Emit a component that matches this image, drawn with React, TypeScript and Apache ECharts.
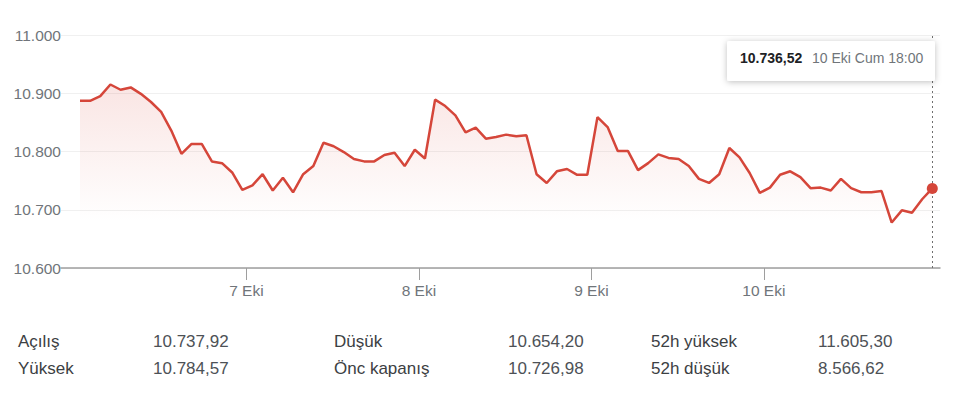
import React, { useEffect, useRef } from "react";
import * as echarts from "echarts";

// 30-minute closes, 10:00–18:00, one array per trading day
const oct6 = [10887, 10887, 10895, 10915, 10906, 10910, 10899, 10885, 10868, 10836, 10796, 10813, 10813, 10783, 10780, 10764, 10734];
const oct7 = [10742, 10761, 10733, 10755, 10730, 10761, 10775, 10815, 10809, 10799, 10787, 10783, 10783, 10794, 10798, 10775, 10803];
const oct8 = [10788, 10889, 10878, 10862, 10833, 10841, 10822, 10825, 10829, 10826, 10828, 10761, 10746, 10766, 10770, 10760, 10760];
const oct9 = [10859, 10842, 10801, 10801, 10768, 10780, 10795, 10789, 10787, 10775, 10753, 10746, 10761, 10806, 10790, 10763, 10729];
const oct10 = [10738, 10760, 10766, 10756, 10737, 10738, 10733, 10753, 10737, 10730, 10730, 10732, 10678, 10699, 10695, 10718, 10736.52];

const dayLabels = ["7 Eki", "8 Eki", "9 Eki", "10 Eki"];
const dayTickPositions = [16.4, 33.4, 50.4, 67.4];
const lastTimeLabel = "10 Eki Cum 18:00";

const yMin = 10600;
const yMax = 11000;
const yStep = 100;

const statLabelsCol1 = ["Açılış", "Yüksek"];
const statValuesCol1 = ["10.737,92", "10.784,57"];
const statLabelsCol2 = ["Düşük", "Önc kapanış"];
const statValuesCol2 = ["10.654,20", "10.726,98"];
const statLabelsCol3 = ["52h yüksek", "52h düşük"];
const statValuesCol3 = ["11.605,30", "8.566,62"];

const FONT = "'Liberation Sans', Arial, Helvetica, sans-serif";
const RED = "#d5463a";

function formatTr(v: number, decimals: number): string {
  const fixed = v.toFixed(decimals);
  const [intPart, frac] = fixed.split(".");
  const withDots = intPart.replace(/\B(?=(\d{3})+(?!\d))/g, ".");
  return frac ? withDots + "," + frac : withDots;
}

export default function App() {
  const ref = useRef<HTMLDivElement>(null);

  useEffect(() => {
    if (!ref.current) return;
    const chart = echarts.init(ref.current, undefined, { renderer: "svg" });
    const values = [...oct6, ...oct7, ...oct8, ...oct9, ...oct10];
    const data = values.map((v, i) => [i, v]);
    const lastIdx = values.length - 1;
    const lastVal = values[lastIdx];

    const statCols = [
      { lx: 18, vx: 153, labels: statLabelsCol1, vals: statValuesCol1 },
      { lx: 334, vx: 508, labels: statLabelsCol2, vals: statValuesCol2 },
      { lx: 651, vx: 818, labels: statLabelsCol3, vals: statValuesCol3 },
    ];
    const rowYs = [341, 368];
    const tableTexts: any[] = [];
    statCols.forEach((c) => {
      c.labels.forEach((t, r) => {
        tableTexts.push({
          type: "text",
          x: c.lx,
          y: rowYs[r],
          style: { text: t, fontSize: 17, fontFamily: FONT, fill: "#3c4043", verticalAlign: "middle" },
        });
        tableTexts.push({
          type: "text",
          x: c.vx,
          y: rowYs[r],
          style: { text: c.vals[r], fontSize: 17, fontFamily: FONT, fill: "#4d5156", verticalAlign: "middle" },
        });
      });
    });

    const option: any = {
      animation: false,
      grid: { left: 61, right: 20, top: 35, bottom: 140 },
      xAxis: {
        type: "value",
        min: -1.87,
        max: 84.76,
        splitLine: { show: false },
        axisLine: { lineStyle: { color: "#9e9e9e", width: 1.5 } },
        axisTick: { show: true, customValues: dayTickPositions, length: 12, lineStyle: { color: "#9e9e9e", width: 1 } },
        axisLabel: {
          customValues: dayTickPositions,
          formatter: (v: number) => {
            let k = 0;
            let best = Infinity;
            dayTickPositions.forEach((p, i) => {
              if (Math.abs(p - v) < best) {
                best = Math.abs(p - v);
                k = i;
              }
            });
            return dayLabels[k];
          },
          margin: 14,
          fontSize: 15.5,
          color: "#70757a",
          fontFamily: FONT,
        },
      },
      yAxis: {
        type: "value",
        min: yMin,
        max: yMax,
        interval: yStep,
        axisLine: { show: false },
        axisTick: { show: false },
        splitLine: { lineStyle: { color: "#f0f0f0", width: 1 } },
        axisLabel: {
          margin: 0,
          fontSize: 15.5,
          color: "#70757a",
          fontFamily: FONT,
          formatter: (v: number) => formatTr(v, 0),
        },
      },
      series: [
        {
          type: "line",
          data,
          showSymbol: false,
          symbol: "none",
          lineStyle: { color: RED, width: 2.5 },
          itemStyle: { color: RED },
          areaStyle: {
            color: new echarts.graphic.LinearGradient(0, 0, 0, 1, [
              { offset: 0, color: "rgba(217,70,59,0.20)" },
              { offset: 0.75, color: "rgba(217,70,59,0)" },
              { offset: 1, color: "rgba(217,70,59,0)" },
            ]),
          },
          markLine: {
            silent: true,
            symbol: ["none", "none"],
            label: { show: false },
            lineStyle: { color: "#6f6f6f", width: 1, type: [2, 3] },
            data: [{ xAxis: lastIdx }],
          },
        },
        {
          type: "scatter",
          data: [[lastIdx, lastVal]],
          symbol: "circle",
          symbolSize: 11,
          itemStyle: { color: RED, opacity: 1 },
          z: 5,
        },
      ],
      graphic: [
        {
          type: "rect",
          z: 100,
          shape: { x: 727, y: 41, width: 208, height: 40, r: 2 },
          style: { fill: "#ffffff", shadowBlur: 6, shadowColor: "rgba(0,0,0,0.25)", shadowOffsetY: 1 },
        },
        {
          type: "text",
          z: 101,
          x: 740,
          y: 58,
          style: { text: formatTr(lastVal, 2), fontSize: 14, fontWeight: "bold", fontFamily: FONT, fill: "#202124", verticalAlign: "middle" },
        },
        {
          type: "text",
          z: 101,
          x: 812,
          y: 58,
          style: { text: lastTimeLabel, fontSize: 14, fontFamily: FONT, fill: "#70757a", verticalAlign: "middle" },
        },
        ...tableTexts,
      ],
    };
    chart.setOption(option);
    return () => chart.dispose();
  }, []);

  return (
    <div
      ref={ref}
      style={{ position: "absolute", left: 0, top: 0, width: 960, height: 408, background: "#ffffff" }}
    />
  );
}
